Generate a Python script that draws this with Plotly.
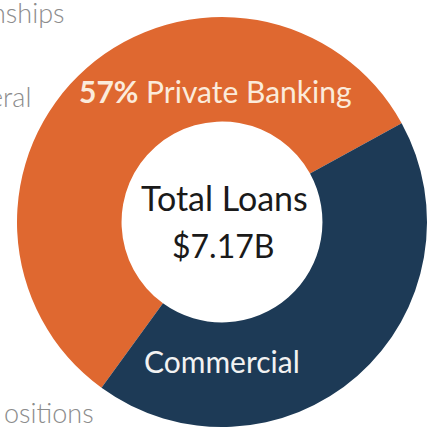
import plotly.graph_objects as go

# Loan book split (share of total, %)
segments = ["Private Banking", "Commercial"]
shares = [57, 43]
colors = ["#DF6830", "#1D3A56"]
total_label = "$7.17B"

W, H = 427, 436


def px(x):
    return x / W


def py(y):
    return 1 - y / H


fig = go.Figure(
    go.Pie(
        labels=segments,
        values=shares,
        hole=0.49,
        sort=False,
        direction="clockwise",
        rotation=216,
        marker=dict(colors=colors, line=dict(width=0)),
        textinfo="none",
        hoverinfo="label+percent",
        showlegend=False,
        domain=dict(x=[17 / W, 1.0], y=[9 / H, 419 / H]),
    )
)

font_family = "Lato, 'Open Sans', sans-serif"
annotations = [
    dict(
        text=f"<b>{shares[0]}%</b> {segments[0]}",
        x=px(215), y=py(91),
        font=dict(family=font_family, size=30, color="#FBEBDB"),
    ),
    dict(
        text="Total Loans",
        x=px(224), y=py(197),
        font=dict(family=font_family, size=34, color="#1A1A1A"),
    ),
    dict(
        text=total_label,
        x=px(223), y=py(246),
        font=dict(family=font_family, size=32, color="#1A1A1A"),
    ),
    dict(
        text=segments[1],
        x=px(222), y=py(361),
        font=dict(family=font_family, size=30, color="#F2F2F2"),
    ),
]

# Neighbouring slide text, cut off at the left edge
side_text = [("nships", 67, 12), ("eral", 33, 97), ("ositions", 96, 412)]
for txt, right, mid in side_text:
    annotations.append(
        dict(
            text=txt,
            x=px(right), y=py(mid),
            xanchor="right",
            font=dict(family=font_family, size=27, color="#8C8C8C", weight=300),
        )
    )

for a in annotations:
    a.setdefault("xanchor", "center")
    a.update(xref="paper", yref="paper", yanchor="middle", showarrow=False)

fig.update_layout(
    width=W,
    height=H,
    margin=dict(l=0, r=0, t=0, b=0),
    paper_bgcolor="white",
    plot_bgcolor="white",
    annotations=annotations,
)

fig.write_html("out.html")
